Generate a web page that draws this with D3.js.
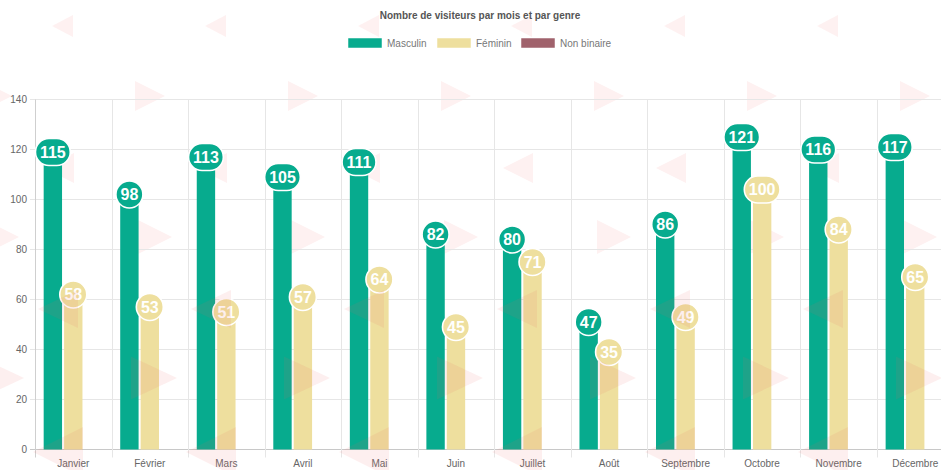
<!DOCTYPE html>
<html>
<head>
<meta charset="utf-8">
<script src="https://cdn.jsdelivr.net/npm/d3@7"></script>
<style>
  html, body { margin: 0; padding: 0; background: #fff; }
  svg { display: block; font-family: "Liberation Sans", Arial, sans-serif; }
</style>
</head>
<body>
<svg id="chart" width="941" height="470"></svg>
<script>
// ---- Data ----
const months = ["Janvier", "Février", "Mars", "Avril", "Mai", "Juin", "Juillet", "Août", "Septembre", "Octobre", "Novembre", "Décembre"];
const masculin = [115, 98, 113, 105, 111, 82, 80, 47, 86, 121, 116, 117];
const feminin = [58, 53, 51, 57, 64, 45, 71, 35, 49, 100, 84, 65];
const nonBinaire = [null, null, null, null, null, null, null, null, null, null, null, null];
const seriesNames = ["Masculin", "Féminin", "Non binaire"];
const yTicks = [0, 20, 40, 60, 80, 100, 120, 140];
const title = "Nombre de visiteurs par mois et par genre";

// ---- Styles ----
const colors = {"Masculin": "#07ab8e", "Féminin": "#eedf9e", "Non binaire": "#a0626c"};
const series = [
  {name: "Masculin", values: masculin},
  {name: "Féminin", values: feminin},
  {name: "Non binaire", values: nonBinaire}
];

const svg = d3.select("#chart");
const W = 941, H = 470;
const plot = {left: 35, right: 953.5, top: 99.5, bottom: 449.5};

const x0 = d3.scaleBand().domain(months).range([plot.left, plot.right]).paddingInner(0).paddingOuter(0);
const catPct = 0.8, barPct = 0.9;
const x1 = d3.scaleBand().domain(seriesNames)
  .range([x0.bandwidth() * (1 - catPct) / 2, x0.bandwidth() * (1 + catPct) / 2])
  .paddingInner(0).paddingOuter(0);
const barW = x1.bandwidth() * barPct;
const y = d3.scaleLinear().domain([0, 140]).range([plot.bottom, plot.top]);

// ---- Decorative watermark triangles (pattern) ----
const decoRows = [
  {tip: 52, yc: 26, w: 21, h: 22, dir: -1, front: false},
  {tip: 165, yc: 96, w: 30, h: 30, dir: 1, front: false},
  {tip: 44, yc: 168, w: 30, h: 30, dir: -1, front: false},
  {tip: 172, yc: 237, w: 34, h: 34, dir: 1, front: false},
  {tip: 38, yc: 309, w: 40, h: 38, dir: -1, front: true},
  {tip: 177, yc: 378, w: 46, h: 43, dir: 1, front: true},
  {tip: 33, yc: 452, w: 50, h: 50, dir: -1, front: true}
];
const period = 153;
function triPaths(front) {
  const out = [];
  decoRows.filter(r => r.front === front).forEach(r => {
    for (let k = -2; k < 8; k++) {
      const tx = r.tip + k * period;
      if (tx + r.w < -5 || tx - r.w > W + 5) continue;
      const bx = tx - r.dir * r.w;
      out.push(`M${tx},${r.yc} L${bx},${r.yc - r.h / 2} L${bx},${r.yc + r.h / 2} Z`);
    }
  });
  return out;
}
function drawTris(front, op) {
  svg.append("g").attr("pointer-events", "none").selectAll("path").data(triPaths(front)).join("path")
    .attr("d", d => d).attr("fill", "rgb(240,100,100)").attr("fill-opacity", op);
}

drawTris(false, 0.09);

// ---- Grid ----
const grid = svg.append("g");
grid.selectAll("line.h").data(yTicks).join("line")
  .attr("x1", plot.left - 5).attr("x2", plot.right)
  .attr("y1", d => y(d)).attr("y2", d => y(d))
  .attr("stroke", d => d === 0 ? "#c8c8c8" : "#e6e6e6").attr("stroke-width", 1);
const vLines = months.map(m => x0(m)).concat([plot.right]);
grid.selectAll("line.v").data(vLines).join("line")
  .attr("x1", d => Math.round(d) + 0.5).attr("x2", d => Math.round(d) + 0.5)
  .attr("y1", plot.top).attr("y2", plot.bottom + 8)
  .attr("stroke", (d, i) => i === 0 ? "#cfcfcf" : "#e6e6e6").attr("stroke-width", 1);

// Y axis labels
svg.append("g").selectAll("text").data(yTicks).join("text")
  .attr("x", plot.left - 8).attr("y", d => y(d) + 3.5)
  .attr("text-anchor", "end").attr("font-size", 10).attr("fill", "#666")
  .text(d => d);

// X axis labels
svg.append("g").selectAll("text").data(months).join("text")
  .attr("x", d => x0(d) + x0.bandwidth() / 2).attr("y", 467)
  .attr("text-anchor", "middle").attr("font-size", 10).attr("fill", "#666")
  .text(d => d);

// ---- Bars ----
const barsG = svg.append("g");
series.forEach(s => {
  barsG.append("g").selectAll("rect")
    .data(months.map((m, i) => ({m, v: s.values[i]})).filter(d => d.v != null))
    .join("rect")
    .attr("x", d => x0(d.m) + x1(s.name) + (x1.bandwidth() - barW) / 2)
    .attr("width", barW)
    .attr("y", d => y(d.v))
    .attr("height", d => y(0) - y(d.v))
    .attr("fill", colors[s.name]);
});

// ---- Badges ----
const labelsG = svg.append("g");
series.forEach(s => {
  const data = months.map((m, i) => ({m, v: s.values[i]})).filter(d => d.v != null);
  const g = labelsG.append("g").selectAll("g").data(data).join("g")
    .attr("transform", d => `translate(${x0(d.m) + x1(s.name) + x1.bandwidth() / 2},${y(d.v) - 10})`);
  g.append("text")
    .attr("text-anchor", "middle").attr("dy", "0.36em")
    .attr("font-size", 16).attr("font-weight", "bold").attr("fill", "#fff")
    .text(d => d.v);
  g.each(function() {
    const t = d3.select(this).select("text").node();
    const tw = t.getComputedTextLength();
    const h = 27, w = Math.max(h, tw + 9);
    d3.select(this).insert("rect", "text")
      .attr("x", -w / 2).attr("y", -h / 2).attr("width", w).attr("height", h)
      .attr("rx", h / 2).attr("ry", h / 2)
      .attr("fill", colors[s.name]).attr("stroke", "#fff").attr("stroke-width", 1.6);
  });
});

drawTris(true, 0.1);

// ---- Title & legend ----
svg.append("text").attr("x", 480).attr("y", 18.5).attr("text-anchor", "middle")
  .attr("font-size", 10).attr("font-weight", "bold").attr("fill", "#555").text(title);

const legendItems = [
  {name: "Masculin", x: 348},
  {name: "Féminin", x: 437},
  {name: "Non binaire", x: 521}
];
const lg = svg.append("g").selectAll("g").data(legendItems).join("g")
  .attr("transform", d => `translate(${d.x},38)`);
lg.append("rect").attr("width", 34).attr("height", 10).attr("fill", d => colors[d.name])
  .attr("stroke", "#fff").attr("stroke-width", 0.5);
lg.append("text").attr("x", 39).attr("y", 8.5).attr("font-size", 10).attr("fill", "#777").text(d => d.name);
</script>
</body>
</html>
